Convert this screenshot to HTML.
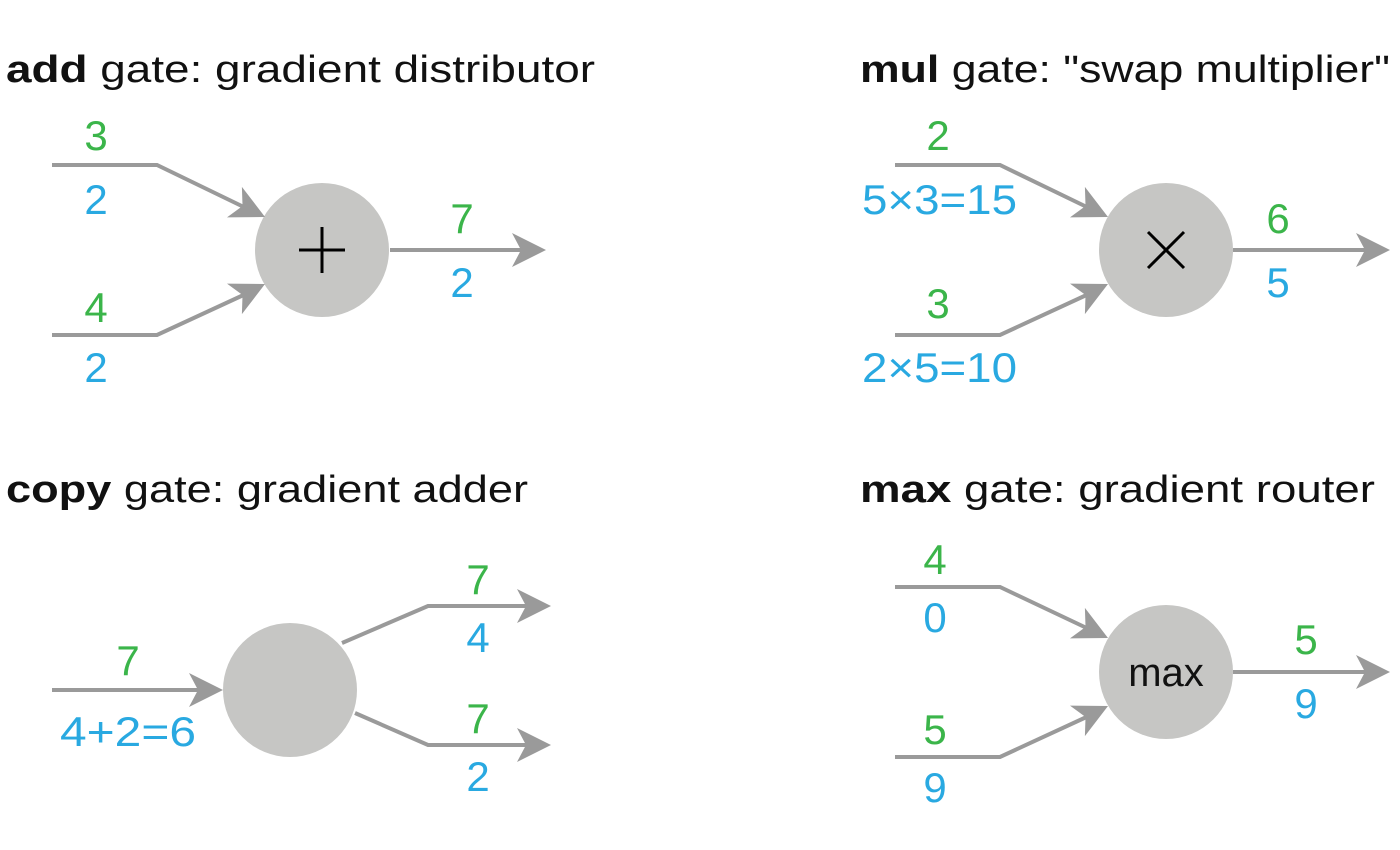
<!DOCTYPE html>
<html><head><meta charset="utf-8"><style>
html,body{margin:0;padding:0;background:#fff;}
svg{display:block;}
text{font-family:"Liberation Sans","DejaVu Sans",sans-serif;}
.g{fill:#3bb54a;font-size:42px;text-anchor:middle;}
.b{fill:#29a9e1;font-size:42px;text-anchor:middle;}
.t{fill:#111;font-size:38px;}
.l{stroke:#9a9a9a;stroke-width:4;fill:none;}
</style></head><body>
<svg width="1400" height="850" viewBox="0 0 1400 850" xmlns="http://www.w3.org/2000/svg">
<defs>
<g id="ah"><path d="M0,0 L-34,-17 L-25,0 L-34,17 Z" fill="#9a9a9a"/></g>
</defs>

<!-- ADD -->
<text class="t" x="6" y="82" textLength="589" lengthAdjust="spacingAndGlyphs"><tspan font-weight="bold">add</tspan> gate: gradient distributor</text>
<circle cx="322" cy="250" r="67" fill="#c6c6c4"/>
<line x1="299" y1="250" x2="345" y2="250" stroke="#000" stroke-width="3"/>
<line x1="322" y1="227" x2="322" y2="273" stroke="#000" stroke-width="3"/>
<polyline class="l" points="52,165 157,165 250,210"/>
<use href="#ah" transform="translate(265,217) rotate(26)"/>
<polyline class="l" points="52,335 157,335 250,292"/>
<use href="#ah" transform="translate(265,284) rotate(-26)"/>
<line class="l" x1="390" y1="250" x2="530" y2="250"/>
<use href="#ah" transform="translate(546,250)"/>
<text class="g" x="96" y="150">3</text><text class="b" x="96" y="214">2</text>
<text class="g" x="96" y="322">4</text><text class="b" x="96" y="382">2</text>
<text class="g" x="462" y="233">7</text><text class="b" x="462" y="297">2</text>

<!-- MUL -->
<text class="t" x="860" y="82" textLength="530" lengthAdjust="spacingAndGlyphs"><tspan font-weight="bold">mul</tspan> gate: "swap multiplier"</text>
<circle cx="1166" cy="250" r="67" fill="#c6c6c4"/>
<line x1="1148" y1="232" x2="1184" y2="268" stroke="#000" stroke-width="3"/>
<line x1="1184" y1="232" x2="1148" y2="268" stroke="#000" stroke-width="3"/>
<polyline class="l" points="895,165 1000,165 1093,210"/>
<use href="#ah" transform="translate(1108,217) rotate(26)"/>
<polyline class="l" points="895,335 1000,335 1093,292"/>
<use href="#ah" transform="translate(1108,284) rotate(-26)"/>
<line class="l" x1="1233" y1="250" x2="1375" y2="250"/>
<use href="#ah" transform="translate(1390,250)"/>
<text class="g" x="938" y="150">2</text><text class="b" x="862" y="214" text-anchor="start" style="text-anchor:start" textLength="155" lengthAdjust="spacingAndGlyphs">5×3=15</text>
<text class="g" x="938" y="318">3</text><text class="b" x="862" y="382" style="text-anchor:start" textLength="155" lengthAdjust="spacingAndGlyphs">2×5=10</text>
<text class="g" x="1278" y="233">6</text><text class="b" x="1278" y="297">5</text>

<!-- COPY -->
<text class="t" x="6" y="502" textLength="522" lengthAdjust="spacingAndGlyphs"><tspan font-weight="bold">copy</tspan> gate: gradient adder</text>
<circle cx="290" cy="690" r="67" fill="#c6c6c4"/>
<line class="l" x1="52" y1="690" x2="208" y2="690"/>
<use href="#ah" transform="translate(223,690)"/>
<polyline class="l" points="342,643 428,606 536,606"/>
<use href="#ah" transform="translate(551,606)"/>
<polyline class="l" points="355,713 428,745 536,745"/>
<use href="#ah" transform="translate(551,745)"/>
<text class="g" x="128" y="675">7</text><text class="b" x="60" y="746" style="text-anchor:start" textLength="136" lengthAdjust="spacingAndGlyphs">4+2=6</text>
<text class="g" x="478" y="594">7</text><text class="b" x="478" y="652">4</text>
<text class="g" x="478" y="733">7</text><text class="b" x="478" y="791">2</text>

<!-- MAX -->
<text class="t" x="860" y="502" textLength="515" lengthAdjust="spacingAndGlyphs"><tspan font-weight="bold">max</tspan> gate: gradient router</text>
<circle cx="1166" cy="672" r="67" fill="#c6c6c4"/>
<text x="1166" y="686" font-size="40" text-anchor="middle" fill="#111">max</text>
<polyline class="l" points="895,587 1000,587 1093,631"/>
<use href="#ah" transform="translate(1108,638) rotate(26)"/>
<polyline class="l" points="895,757 1000,757 1093,714"/>
<use href="#ah" transform="translate(1108,706) rotate(-26)"/>
<line class="l" x1="1233" y1="672" x2="1375" y2="672"/>
<use href="#ah" transform="translate(1390,672)"/>
<text class="g" x="935" y="574">4</text><text class="b" x="935" y="632">0</text>
<text class="g" x="935" y="744">5</text><text class="b" x="935" y="802">9</text>
<text class="g" x="1306" y="654">5</text><text class="b" x="1306" y="718">9</text>
</svg>
</body></html>
